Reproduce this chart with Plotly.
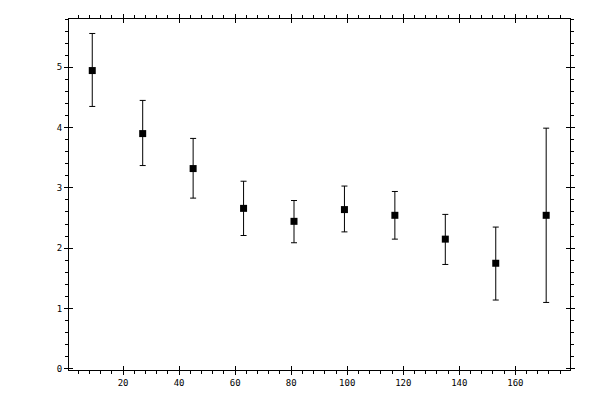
import plotly.graph_objects as go

# bin centres and measured values with asymmetric errors
x_vals = [9, 27, 45, 63, 81, 99, 117, 135, 153, 171]
y_vals = [4.945, 3.90, 3.32, 2.66, 2.445, 2.64, 2.545, 2.15, 1.75, 2.545]
y_top = [5.56, 4.45, 3.82, 3.11, 2.79, 3.03, 2.94, 2.56, 2.35, 3.99]
y_bot = [4.35, 3.37, 2.83, 2.21, 2.09, 2.27, 2.15, 1.73, 1.14, 1.10]

x_major = [20, 40, 60, 80, 100, 120, 140, 160]
y_major = [0, 1, 2, 3, 4, 5]

err_plus = [t - v for t, v in zip(y_top, y_vals)]
err_minus = [v - b for v, b in zip(y_vals, y_bot)]

fig = go.Figure()
fig.add_trace(go.Scatter(
    x=x_vals, y=y_vals, mode="markers",
    marker=dict(symbol="square", size=7, color="black"),
    error_y=dict(type="data", symmetric=False, array=err_plus, arrayminus=err_minus,
                 color="black", thickness=1, width=3),
    showlegend=False,
))
# dummy trace so the overlay axes (inner half of major ticks) get drawn
fig.add_trace(go.Scatter(x=[None], y=[None], xaxis="x2", yaxis="y2", showlegend=False))

tick_font = dict(family="DejaVu Sans Mono", size=9, color="black")
x_range = [0.7, 179.5]
y_range = [-0.02, 5.8]

# figure sized to fit inside the 8px body margin of the page (no scrollbars)
fig.update_layout(
    width=584, height=384,
    margin=dict(l=61, r=22, t=11, b=22),
    plot_bgcolor="white", paper_bgcolor="white",
    xaxis=dict(range=x_range, tickvals=x_major, ticks="outside", ticklen=4,
               tickwidth=1, tickcolor="black", showline=True, linecolor="black",
               linewidth=1, mirror="ticks", showgrid=False, zeroline=False,
               tickfont=tick_font, automargin=False,
               minor=dict(dtick=4, tick0=0, ticks="outside", ticklen=3,
                          tickwidth=1, tickcolor="black", showgrid=False)),
    yaxis=dict(range=y_range, tickvals=y_major, ticks="outside", ticklen=4,
               tickwidth=1, tickcolor="black", showline=True, linecolor="black",
               linewidth=1, mirror="ticks", showgrid=False, zeroline=False,
               tickfont=tick_font, automargin=False,
               minor=dict(dtick=0.2, tick0=0, ticks="outside", ticklen=3,
                          tickwidth=1, tickcolor="black", showgrid=False)),
    xaxis2=dict(range=x_range, overlaying="x", anchor="y", tickvals=x_major,
                ticks="inside", ticklen=4, tickwidth=1, tickcolor="black",
                showticklabels=False, mirror="ticks", showgrid=False,
                zeroline=False, showline=False, automargin=False),
    yaxis2=dict(range=y_range, overlaying="y", anchor="x", tickvals=y_major,
                ticks="inside", ticklen=4, tickwidth=1, tickcolor="black",
                showticklabels=False, mirror="ticks", showgrid=False,
                zeroline=False, showline=False, automargin=False),
)

fig.write_html("out.html")
